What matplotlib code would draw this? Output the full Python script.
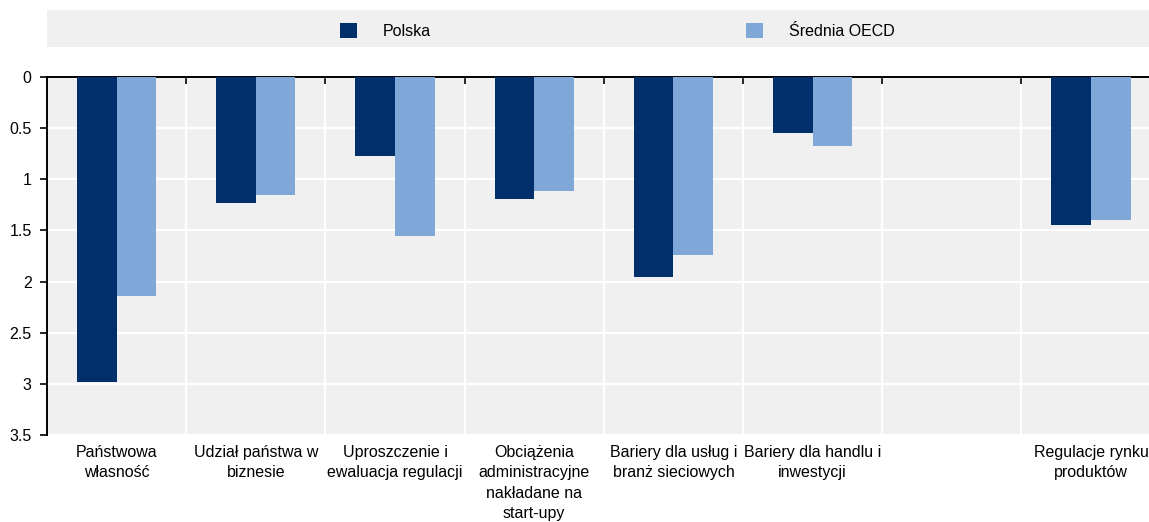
import matplotlib
matplotlib.use("Agg")
import matplotlib.pyplot as plt
from matplotlib.patches import Rectangle
import numpy as np

plt.rcParams['font.family'] = ['Liberation Sans', 'DejaVu Sans']

categories = [
    "Państwowa\nwłasność",
    "Udział państwa w\nbiznesie",
    "Uproszczenie i\newaluacja regulacji",
    "Obciążenia\nadministracyjne\nnakładane na\nstart-upy",
    "Bariery dla usług i\nbranż sieciowych",
    "Bariery dla handlu i\ninwestycji",
    "",
    "Regulacje rynku\nproduktów",
]
polska = [2.98, 1.23, 0.77, 1.19, 1.96, 0.55, np.nan, 1.45]
oecd = [2.14, 1.15, 1.55, 1.11, 1.74, 0.67, np.nan, 1.40]
series_names = ["Polska", "Średnia OECD"]
colors = ["#002F6C", "#7FA8D9"]
y_ticks = [0, 0.5, 1, 1.5, 2, 2.5, 3, 3.5]
y_tick_labels = ["0", "0.5", "1", "1.5", "2", "2.5", "3", "3.5"]

W, H = 1149, 522
fig = plt.figure(figsize=(W / 100, H / 100), dpi=100)

# axes placement in pixels
left, right, top, bottom = 47, 1149, 77, 435
ax = fig.add_axes([left / W, 1 - bottom / H, (right - left) / W, (bottom - top) / H])
ax.set_facecolor("#F0F0F0")

x = np.arange(len(categories))
bw = 0.285
ax.bar(x - bw / 2, polska, width=bw, color=colors[0], zorder=3, label=series_names[0])
ax.bar(x + bw / 2, oecd, width=bw, color=colors[1], zorder=3, label=series_names[1])

slot_px = 139.2
ax.set_xlim(-0.5, -0.5 + (right - left) / slot_px)
ax.set_ylim(3.5, 0)

ax.set_yticks(y_ticks)
ax.set_yticklabels(y_tick_labels, fontsize=11.5)
ax.yaxis.grid(True, color="white", linewidth=1.6, zorder=1)

# category boundaries as major ticks (top, inward) with vertical white grid
ax.set_xticks(np.arange(0.5, len(categories) - 0.5, 1.0))
ax.xaxis.grid(True, which="major", color="white", linewidth=1.6, zorder=1)
ax.set_xticks(x, minor=True)
ax.set_xticklabels(categories, minor=True, fontsize=11.5, linespacing=1.45, va="top")
ax.tick_params(axis="x", which="major", top=True, bottom=False, direction="in",
               length=5, width=1.2, labelbottom=False, color="black")
ax.tick_params(axis="x", which="minor", bottom=True, length=0, pad=7)
ax.tick_params(axis="y", which="major", direction="out", length=5, width=1.2, pad=6)

for s in ["right", "bottom"]:
    ax.spines[s].set_visible(False)
ax.spines["top"].set_linewidth(1.4)
ax.spines["left"].set_linewidth(1.4)
ax.set_axisbelow(True)

# legend band
fig.patches.append(Rectangle((left / W, 1 - 47 / H), (W - left) / W, 37 / H,
                             transform=fig.transFigure, facecolor="#F0F0F0",
                             edgecolor="none", zorder=0))
legend_x = [340, 746]
for lx, name, c in zip(legend_x, series_names, colors):
    fig.patches.append(Rectangle((lx / W, 1 - 38 / H), 17 / W, 15 / H,
                                 transform=fig.transFigure, facecolor=c,
                                 edgecolor="none", zorder=1))
    fig.text((lx + 43) / W, 1 - 31 / H, name, fontsize=11.5, va="center", ha="left")

fig.savefig("out.png", dpi=100)
